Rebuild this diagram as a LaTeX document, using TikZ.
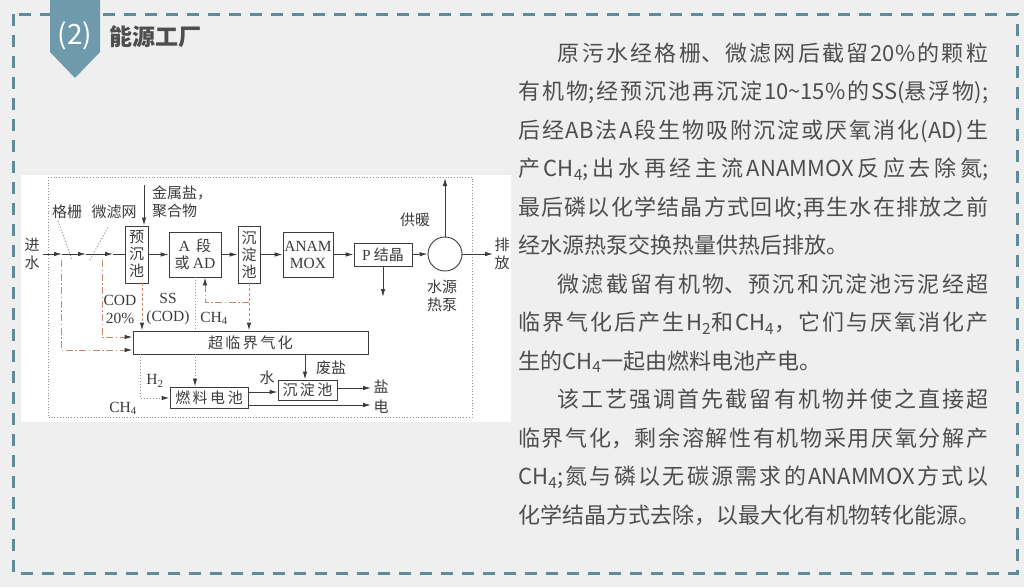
\documentclass[tikz,border=0pt]{standalone}
\usepackage{fontspec}
\setmainfont{Liberation Serif}
\newfontfamily\cjk{Noto Sans CJK SC}
\usetikzlibrary{arrows.meta,positioning}

\definecolor{pagebg}{HTML}{EFEFEF}
\definecolor{frameteal}{HTML}{5E8C99}
\definecolor{badge}{HTML}{6F9AAB}
\definecolor{ink}{HTML}{3C3C3C}
\definecolor{txt}{HTML}{4E4E4E}
\definecolor{sludge}{HTML}{CB8A6C}
\definecolor{gas}{HTML}{8E8E8E}

\newcommand{\lat}[1]{{\rmfamily\fontsize{15.5}{17}\selectfont #1}}

\tikzset{
  unit/.style={draw=ink, line width=0.9pt, fill=white, inner sep=0pt, text=ink,
    font=\cjk\fontsize{15}{17}\selectfont, align=center},
  lbl/.style={text=ink, inner sep=0pt, font=\cjk\fontsize{15}{18}\selectfont, align=center},
  tip/.style={-{Latex[length=8pt,width=4.5pt,color=ink]}},
  flow/.style={draw=ink, line width=0.9pt, tip},
  pipe/.style={draw=ink, line width=0.9pt},
  screen/.style={draw=gas, line width=1pt, dotted},
  sludgeline/.style={draw=sludge, line width=1pt, dash pattern=on 7pt off 2.5pt on 1.5pt off 2.5pt},
  sludgedash/.style={draw=sludge, line width=1pt, densely dashed},
  gasline/.style={draw=gas, line width=1pt, dotted}
}

\begin{document}
\begin{tikzpicture}[x=1pt,y=-1pt]
\useasboundingbox (0,0) rectangle (1024,587);
\fill[pagebg] (0,0) rectangle (1024,587);
\draw[frameteal, line width=3pt, dash pattern=on 12pt off 9pt] (13,14) rectangle (1017,573);
\fill[badge] (50,0) -- (100,0) -- (100,52) -- (75,78) -- (50,52) -- cycle;
\node[text=white, font=\cjk\fontsize{28}{30}\selectfont] (num) at (75,36) {(2)};
\node[anchor=west, text=txt, font=\cjk\bfseries\fontsize{23}{26}\selectfont] (title) at (106,37) {能源工厂};

% process diagram
\fill[white] (21,175) rectangle (511,422);
\draw[gas, line width=0.8pt, dotted] (48,177) rectangle (472,417);

\node[unit, minimum width=23pt, minimum height=57pt] (pre) at (136.5,254.5) {预\\沉\\池};
\node[unit, minimum width=52pt, minimum height=45pt] (aseg) at (195,254.5) {\lat{A}\, 段\\或 \lat{AD}};
\node[unit, minimum width=22pt, minimum height=57pt] (sed) at (249,254.5) {沉\\淀\\池};
\node[unit, minimum width=50pt, minimum height=45pt] (anam) at (308,254.5) {\lat{ANAM}\\\lat{MOX}};
\node[unit, minimum width=58pt, minimum height=23pt] (pcry) at (383,254.5) {\lat{P} 结晶};
\node[unit, circle, minimum size=34pt] (hp) at (445,254) {};
\node[unit, minimum width=235pt, minimum height=23pt] (scwg) at (250.5,342.5) {超\,临\,界\,气\,化};
\node[unit, minimum width=78pt, minimum height=21pt] (fc) at (209,397.5) {燃\,料\,电\,池};
\node[unit, minimum width=59pt, minimum height=20pt] (sed2) at (307.5,390) {沉\,淀\,池};

\node[lbl] (inlet) at (32,254) {进\\水};
\node[lbl] (outlet) at (502,254) {排\\放};
\node[lbl] (grille) at (67,212) {格栅};
\node[lbl] (mesh) at (114,212) {微滤网};
\node[lbl, align=left, anchor=west] (dose) at (152,202) {金属盐，\\聚合物};
\node[lbl] (heat) at (415,220) {供暖};
\node[lbl] (hplbl) at (442,296) {水源\\热泵};
\node[lbl] (cod) at (120,309) {\lat{COD}\\\lat{20\%}};
\node[lbl] (ss) at (168,309) {\lat{SS}\\\lat{(COD)}};
\node[lbl] (ch4a) at (214,318) {\lat{CH\textsubscript{4}}};
\node[lbl] (h2) at (155,381) {\lat{H\textsubscript{2}}};
\node[lbl] (ch4b) at (123,408) {\lat{CH\textsubscript{4}}};
\node[lbl] (water) at (267,378) {水};
\node[lbl] (waste) at (331,368) {废盐};
\node[lbl] (saltout) at (381,387) {盐};
\node[lbl] (power) at (381,407) {电};

\coordinate (in0) at (43,254);
\coordinate (g1) at (62,254);
\coordinate (g2) at (86,254);
\coordinate (g3) at (113,254);
\coordinate (gt) at (58,221);
\coordinate (gb) at (72,260);
\coordinate (mb) at (90,260);
\coordinate (mt) at (108,227);
\coordinate (r1) at (61,260);
\coordinate (r1b) at (61,350);
\coordinate (r2) at (102,260);
\coordinate (r2b) at (102,337);
\coordinate (dosein) at (144,185);
\coordinate (heatup) at (445,178);
\coordinate (pdown) at (383,297);
\coordinate (out) at (493,254);
\coordinate (rc) at (249,302);
\coordinate (rc2) at (205,302);
\coordinate (h2a) at (140,354);
\coordinate (h2b) at (140,398);
\coordinate (pw) at (371,405);

\draw[screen] (gt) -- (gb);
\draw[screen] (mb) -- (mt);
\draw[flow] (in0) -- (g1);
\draw[flow] (g1) -- (g2);
\draw[flow] (g2) -- (g3);
\draw[pipe] (g3) -- (g3 -| pre.west);
\draw[flow] (dosein) -- (dosein |- pre.north);
\draw[flow] (pre.east) -- (aseg.west);
\draw[flow] (aseg.east) -- (sed.west);
\draw[flow] (sed.east) -- (anam.west);
\draw[flow] (anam.east) -- (pcry.west);
\draw[flow] (pcry.east) -- (hp.west);
\draw[flow] (hp.east) -- (out);
\draw[flow] (hp.north) -- (heatup);
\draw[flow] (pcry.south) -- (pdown);

\draw[sludgeline, tip] (r1) -- (r1b) -- (r1b -| scwg.west);
\draw[sludgeline, tip] (r2) -- (r2b) -- (r2b -| scwg.west);
\draw[sludgedash, tip] ([xshift=5.5pt]pre.south) -- ([xshift=5.5pt]pre.south |- scwg.north);
\draw[sludgedash, dotted] (aseg.south) -- (aseg.south |- scwg.north);
\draw[sludgedash, tip] (sed.south) -- (sed.south |- scwg.north);
\draw[sludgeline, tip] (rc) -- (rc2) -- (rc2 |- aseg.south);

\draw[gasline, tip] (scwg.south -| aseg.south) -- (fc.north -| aseg.south);
\draw[gasline, tip] (h2a) -- (h2b) -- (h2b -| fc.west);
\draw[flow] ([yshift=5.5pt]fc.east) -- ([yshift=5.5pt]fc.east -| sed2.west);
\draw[flow] ([xshift=54.5pt]scwg.south) -- ([xshift=54.5pt]scwg.south |- sed2.north);
\draw[flow] ([yshift=2pt]sed2.east) -- ([yshift=2pt]sed2.east -| pw);
\draw[flow] ([yshift=-7.5pt]fc.east) -- (pw);

% explanation
\node[anchor=base west, inner sep=0pt, text width=470pt, align=justify, text=txt,
  font=\cjk\fontsize{22}{38.5}\selectfont] (body) at (518,61) {%
  \XeTeXlinebreaklocale "zh"\XeTeXlinebreakskip=0pt plus 6pt\tolerance=10000
  \hspace*{1.8em}原污水经格栅、微滤网后截留20\%的颗粒\linebreak
  有机物;经预沉池再沉淀10\textasciitilde15\%的SS(悬浮物);\linebreak
  后经AB法A段生物吸附沉淀或厌氧消化(AD)生\linebreak
  产CH\textsubscript{4};出水再经主流ANAMMOX反应去除氮;\linebreak
  最后磷以化学结晶方式回收;再生水在排放之前\linebreak
  经水源热泵交换热量供热后排放。\par
  \hspace*{1.8em}微滤截留有机物、预沉和沉淀池污泥经超\linebreak
  临界气化后产生H\textsubscript{2}和CH\textsubscript{4}，它们与厌氧消化产\linebreak
  生的CH\textsubscript{4}一起由燃料电池产电。\par
  \hspace*{1.8em}该工艺强调首先截留有机物并使之直接超\linebreak
  临界气化，剩余溶解性有机物采用厌氧分解产\linebreak
  CH\textsubscript{4};氮与磷以无碳源需求的ANAMMOX方式以\linebreak
  化学结晶方式去除，以最大化有机物转化能源。\par};
\end{tikzpicture}
\end{document}
